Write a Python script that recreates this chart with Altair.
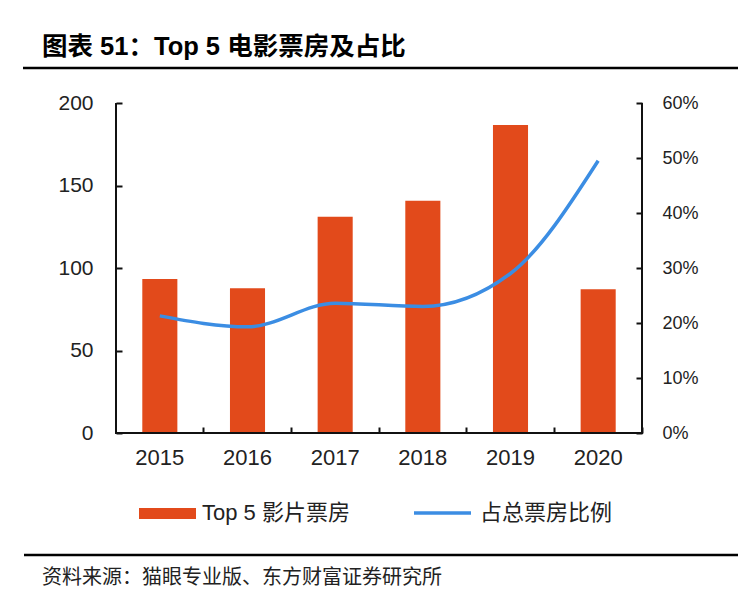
import altair as alt
import pandas as pd

# ---- data ----
years = ["2015", "2016", "2017", "2018", "2019", "2020"]
box_office = [93.3, 87.7, 131.1, 140.8, 186.7, 87.1]          # Top 5 影片票房
share = [0.213, 0.193, 0.236, 0.230, 0.290, 0.495]            # 占总票房比例
y_left_ticks = [0, 50, 100, 150, 200]
y_right_ticks = [0, 0.1, 0.2, 0.3, 0.4, 0.5, 0.6]

title_text = "图表 51：Top 5 电影票房及占比"
legend_bar = "Top 5 影片票房"
legend_line = "占总票房比例"
source_text = "资料来源：猫眼专业版、东方财富证券研究所"

BAR = "#E24A1B"
LINE = "#3B8DE3"
FONT = "Liberation Sans, Noto Sans CJK SC"
CJK = "Noto Sans CJK SC"

df = pd.DataFrame({"year": years, "box": box_office, "share": share})

W, H = 526, 330

x_enc = alt.X(
    "year:N",
    sort=years,
    title=None,
    scale=alt.Scale(paddingInner=0.6, paddingOuter=0.3),
    axis=alt.Axis(
        domain=False, ticks=True, tickSize=6, tickWidth=2, tickColor="#111",
        offset=-6, bandPosition=1.75, labelAngle=0, labelPadding=14,
        labelFontSize=22, labelColor="#222", labelFont=FONT,
    ),
)

bars = alt.Chart(df).mark_bar(color=BAR).encode(
    x=x_enc,
    y=alt.Y(
        "box:Q", title=None,
        scale=alt.Scale(domain=[0, 200], nice=False),
        axis=alt.Axis(
            values=y_left_ticks, grid=False, domain=False, tickSize=6, tickWidth=2,
            tickColor="#111", offset=-6, labelPadding=23, labelFontSize=21,
            labelColor="#222", labelFont=FONT,
        ),
    ),
)

line = alt.Chart(df).mark_line(color=LINE, strokeWidth=3.5, interpolate="monotone").encode(
    x=x_enc,
    y=alt.Y(
        "share:Q", title=None,
        scale=alt.Scale(domain=[0, 0.6], nice=False),
        axis=alt.Axis(
            orient="right", values=y_right_ticks, format=".0%", grid=False, domain=False,
            tickSize=6, tickWidth=2, tickColor="#111", offset=-6, labelPadding=20,
            labelFontSize=18, labelColor="#222", labelFont=FONT,
        ),
    ),
)

# axis lines (domains)
left_dom = alt.Chart(df).mark_rule(color="#111", strokeWidth=2).encode(
    x=alt.value(0), y=alt.value(0), y2=alt.value(H))
right_dom = alt.Chart(df).mark_rule(color="#111", strokeWidth=2).encode(
    x=alt.value(W), y=alt.value(0), y2=alt.value(H))
bottom_dom = alt.Chart(df).mark_rule(color="#111", strokeWidth=2).encode(
    x=alt.value(-1), x2=alt.value(W + 1), y=alt.value(H))

one = pd.DataFrame({"a": [0]})

title = alt.Chart(one).mark_text(
    align="left", baseline="middle", fontSize=25.5, fontWeight="bold", font=FONT, color="#000"
).encode(x=alt.value(-74), y=alt.value(-56), text=alt.value(title_text))
title_rule = alt.Chart(one).mark_rule(color="#000", strokeWidth=2.5).encode(
    x=alt.value(-93), x2=alt.value(622), y=alt.value(-35))

leg_sw = alt.Chart(one).mark_rect(color=BAR).encode(
    x=alt.value(23), x2=alt.value(80), y=alt.value(405), y2=alt.value(416))
leg_t1 = alt.Chart(one).mark_text(
    align="left", baseline="middle", fontSize=22, font=FONT, color="#222"
).encode(x=alt.value(86), y=alt.value(410), text=alt.value(legend_bar))
leg_ln = alt.Chart(one).mark_rule(color=LINE, strokeWidth=3.5).encode(
    x=alt.value(298), x2=alt.value(355), y=alt.value(410))
leg_t2 = alt.Chart(one).mark_text(
    align="left", baseline="middle", fontSize=22, font=CJK, color="#222"
).encode(x=alt.value(364), y=alt.value(410), text=alt.value(legend_line))

src_rule = alt.Chart(one).mark_rule(color="#000", strokeWidth=2.5).encode(
    x=alt.value(-92), x2=alt.value(622), y=alt.value(452))
src = alt.Chart(one).mark_text(
    align="left", baseline="middle", fontSize=20, font=CJK, color="#222"
).encode(x=alt.value(-74), y=alt.value(475), text=alt.value(source_text))

main = alt.layer(bars, line).resolve_scale(y="independent")

chart = alt.layer(
    main, left_dom, right_dom, bottom_dom,
    title, title_rule, leg_sw, leg_t1, leg_ln, leg_t2, src_rule, src,
).properties(
    width=W, height=H,
    autosize=alt.AutoSizeParams(type="none"),
    padding={"left": 116, "top": 103, "right": 96, "bottom": 177},
    background="#ffffff",
).configure_view(stroke=None)

chart.save("out.html", embed_options={"renderer": "svg", "actions": False})
